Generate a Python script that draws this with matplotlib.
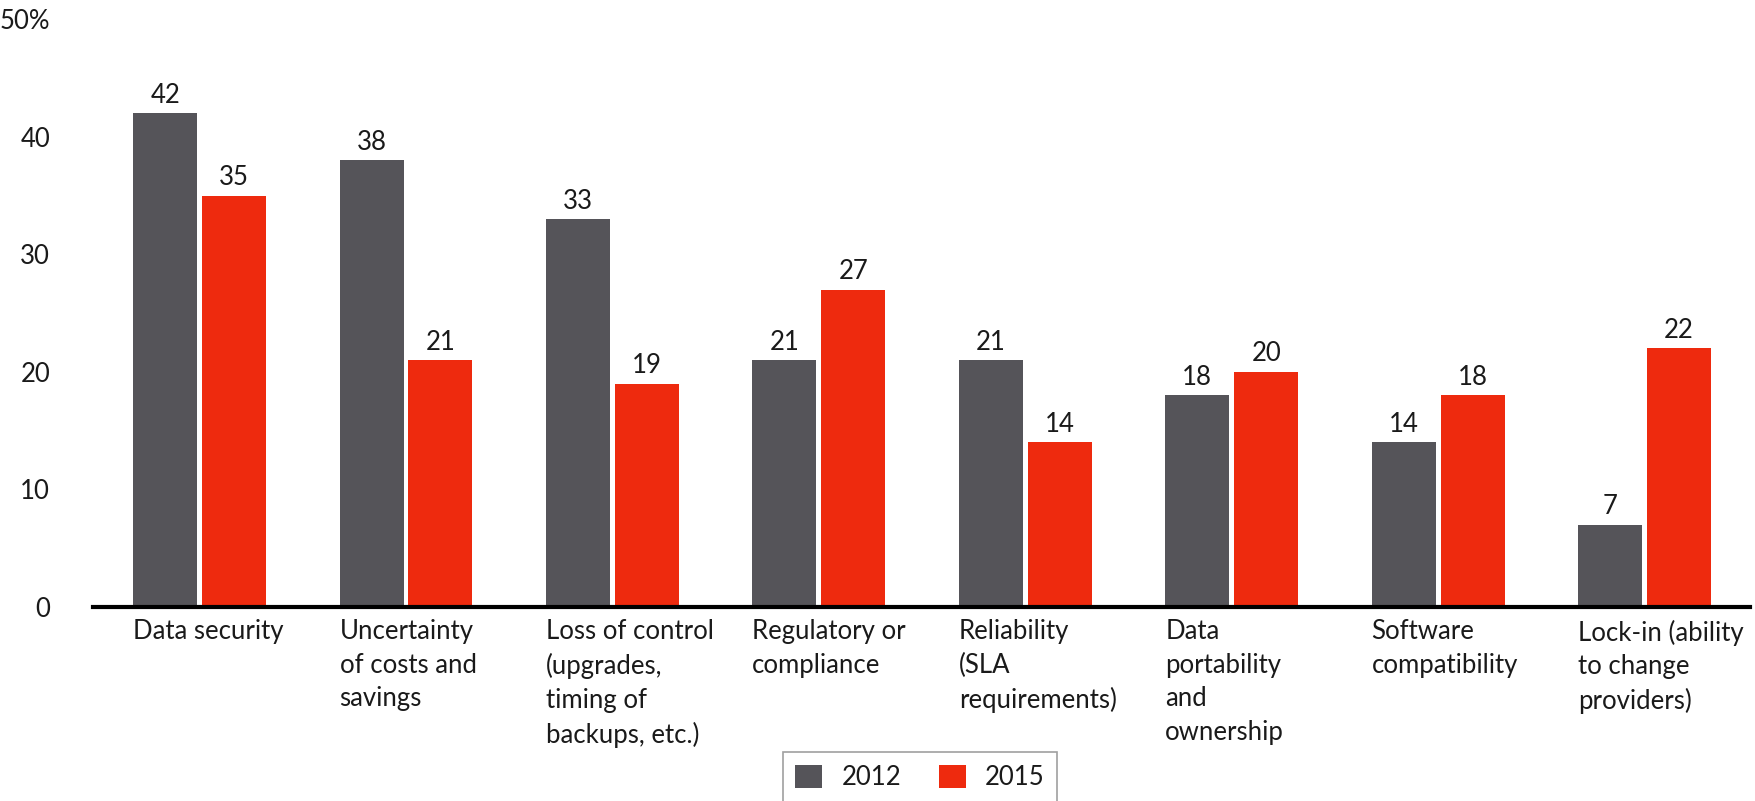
import numpy as np
import matplotlib
matplotlib.use("Agg")
from matplotlib import pyplot as plt

categories = [
    "Data security",
    "Uncertainty\nof costs and\nsavings",
    "Loss of control\n(upgrades,\ntiming of\nbackups, etc.)",
    "Regulatory or\ncompliance",
    "Reliability\n(SLA\nrequirements)",
    "Data\nportability\nand\nownership",
    "Software\ncompatibility",
    "Lock-in (ability\nto change\nproviders)",
]
values_2012 = [42, 38, 33, 21, 21, 18, 14, 7]
values_2015 = [35, 21, 19, 27, 14, 20, 18, 22]
y_ticks = [0, 10, 20, 30, 40, 50]
y_tick_labels = ["0", "10", "20", "30", "40", "50%"]

GRAY = "#555459"
RED = "#EE2A0E"

plt.rcParams["font.family"] = ["Lato", "DejaVu Sans"]
plt.rcParams["font.size"] = 18
plt.rcParams["text.color"] = "#1a1a1a"

fig = plt.figure(figsize=(17.56, 8.01), dpi=100)
ax = fig.add_axes([0.053, 0.2422, 0.9437, 0.7335])

x = np.arange(len(categories))
w = 0.31
off = 0.167

b1 = ax.bar(x - off, values_2012, w, color=GRAY, label="2012")
b2 = ax.bar(x + off, values_2015, w, color=RED, label="2015")
ax.bar_label(b1, padding=4, fontsize=18.5, color="#1a1a1a")
ax.bar_label(b2, padding=4, fontsize=18.5, color="#1a1a1a")

ax.set_xlim(-0.516, 7.512)
ax.set_ylim(0, 50)

ax.set_yticks(y_ticks)
ax.set_yticklabels(y_tick_labels)
ax.tick_params(axis="y", length=0, pad=31, labelsize=18.5, labelcolor="#1a1a1a")

ax.set_xticks(x - off - w / 2)
ax.set_xticklabels(categories, ha="left", va="top", linespacing=1.42)
ax.tick_params(axis="x", length=0, pad=9, labelsize=18.5, labelcolor="#1a1a1a")

for s in ax.spines.values():
    s.set_visible(False)
ax.axhline(0, color="black", lw=3, clip_on=False, zorder=5)

leg = fig.legend(
    handles=[b1, b2],
    labels=["2012", "2015"],
    loc="upper center",
    bbox_to_anchor=(920 / 1756, 1 - 739 / 801),
    ncol=2,
    frameon=True,
    fancybox=False,
    fontsize=18.5,
    handlelength=1.05,
    handleheight=1.0,
    handletextpad=0.75,
    columnspacing=1.45,
    borderpad=0.5,
    edgecolor="#888888",
)
leg.get_frame().set_linewidth(1.2)

fig.savefig("out.png", dpi=100)
